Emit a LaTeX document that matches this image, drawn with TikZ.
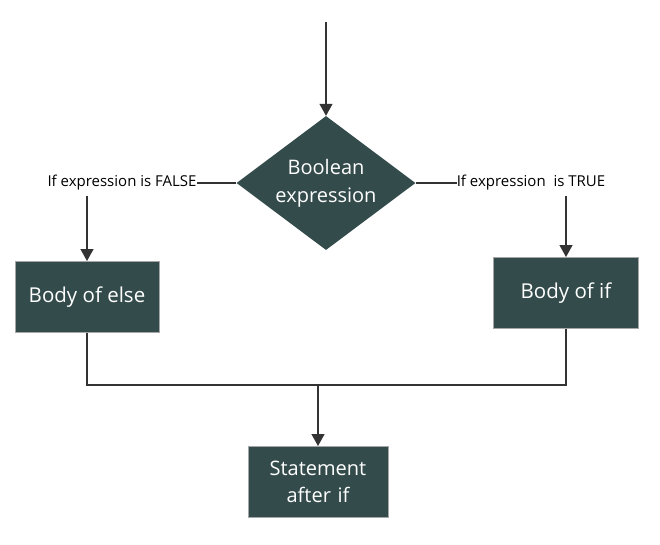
\documentclass[tikz,border=0pt]{standalone}
\usepackage{fontspec}
\setmainfont{Open Sans}
\usetikzlibrary{positioning,shapes.geometric,arrows.meta}
\definecolor{slate}{RGB}{52,75,75}

\begin{document}
\begin{tikzpicture}[
  x=1pt,y=-1pt,
  every node/.style={scale=1.0},
  block/.style={rectangle,draw=gray!70,line width=1pt,fill=slate,text=white,font=\fontsize{20.5}{24}\selectfont,align=center,minimum width=#1,minimum height=71pt,inner sep=0pt},
  test/.style={diamond,fill=slate,text=white,font=\fontsize{20}{28}\selectfont,align=center,minimum width=179pt,minimum height=134pt,aspect=1.34,inner sep=0pt},
  notes/.style={font=\fontsize{15}{17}\selectfont,inner sep=0pt},
  wire/.style={line width=1.3pt,black!80},
  arr/.style={wire,-{Triangle[width=13pt,length=12pt]}},
]
\useasboundingbox (0,0) rectangle (660,544);
\coordinate (start) at (326,22);
\node (cond) [test] at (326,183) {Boolean\\expression};
\node (falselbl) [notes] at (122,183) {If expression is FALSE};
\node (truelbl) [notes] at (531,183) {If expression\ \ is TRUE};
\node (else) [block=144pt] at (87,297) {Body of else};
\node (then) [block=145pt] at (566,293) {Body of if};
\node (after) [block=140pt,text width=130pt,font=\fontsize{20}{27}\selectfont] at (318,482) {Statement\\after if};
\coordinate (join) at (318,385);

\draw[arr] (start) -- (cond.north);
\draw[wire] (cond.west) -- (falselbl.east);
\draw[wire] (cond.east) -- (truelbl.west);
\draw[arr] ([yshift=-5pt]else |- falselbl.south) -- (else.north);
\draw[arr] ([yshift=-5pt]then |- truelbl.south) -- (then.north);
\draw[wire] (else.south) |- (join) -| (then.south);
\draw[arr] (join) -- (after.north);
\end{tikzpicture}
\end{document}
